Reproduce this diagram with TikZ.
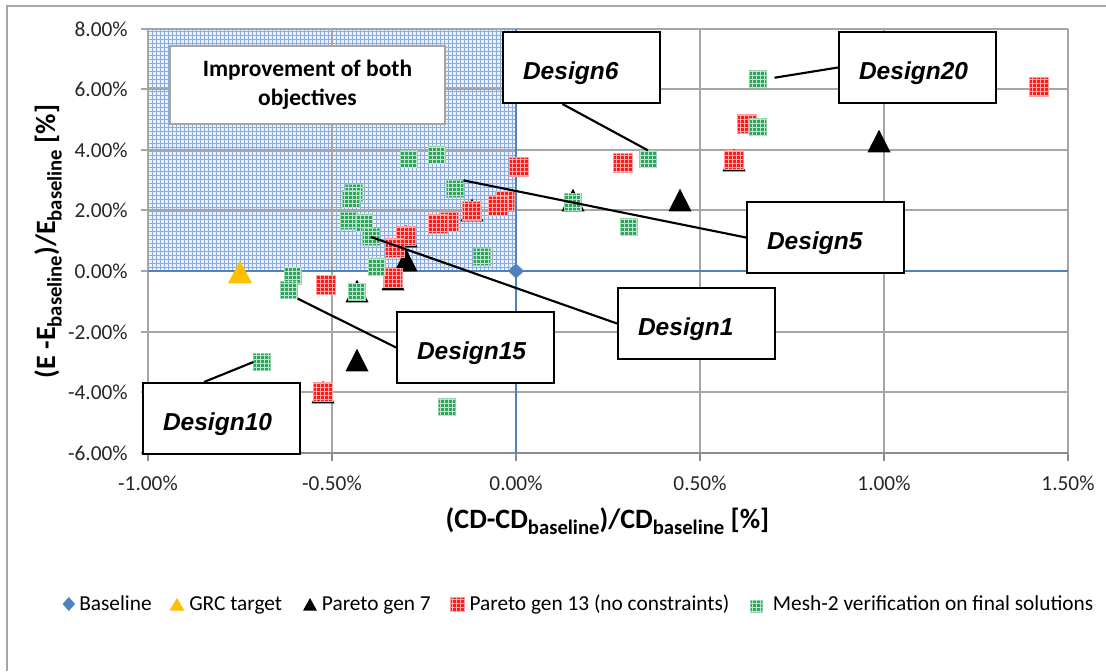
\documentclass[tikz,border=0pt]{standalone}
\usepackage{fontspec}
\setmainfont{Carlito}
\newfontfamily\arialfont{Liberation Sans}
\usetikzlibrary{patterns,shapes.geometric,calc}

\definecolor{axblue}{RGB}{79,129,189}
\definecolor{gridgray}{RGB}{166,166,166}
\definecolor{hatchbg}{RGB}{236,241,249}
\definecolor{hatchln}{RGB}{140,172,218}
\definecolor{p13red}{RGB}{255,25,25}
\definecolor{meshgreen}{RGB}{40,168,88}
\definecolor{grcyellow}{RGB}{255,192,0}

\newcommand{\bsub}{\raisebox{-5pt}{\fontsize{15.5}{18}\selectfont baseline}}

\begin{document}
\begin{tikzpicture}[x=0.75pt, y=-0.75pt,
    gridline/.style={draw=gridgray, line width=1.1pt},
    zeroline/.style={draw=axblue, line width=1.5pt},
    ticklabel/.style={text=black!85, inner sep=0pt, font=\fontsize{16}{19}\selectfont},
    p13/.style={rectangle, inner sep=0pt, minimum size=14.25pt, fill=p13red, draw=p13red!45!white, line width=0.5pt,
        postaction={pattern=grid, pattern color=white!65!p13red}},
    mesh/.style={rectangle, inner sep=0pt, minimum size=12.4pt, fill=meshgreen, draw=meshgreen!55!white, line width=0.5pt,
        postaction={pattern=grid, pattern color=white!70!meshgreen}},
    designbox/.style={draw, line width=1.5pt, fill=white, anchor=north west, minimum height=53.25pt,
        text width=87.75pt, inner xsep=15pt, inner ysep=0pt, align=left, text height=17.75pt, text depth=0pt,
        font=\arialfont\bfseries\itshape\fontsize{18.4}{22}\selectfont},
    leader/.style={line width=1.6pt},
    legtext/.style={inner sep=0pt, anchor=base west, font=\fontsize{16}{19}\selectfont}]

  \useasboundingbox (0,0) rectangle (1106,671);
  \fill[white] (0,0) rectangle (1106,671);
  % chart frame
  \draw[gridgray, line width=1.1pt] (7,671) -- (7,6) -- (1106,6);

  % region where both objectives improve
  \fill[hatchbg] (148,29) rectangle (516,269);
  \fill[pattern=grid, pattern color=hatchln] (148,29) rectangle (516,269);

  % grid and axes
  \foreach \gy in {29,89,150,210,332,392}
    \draw[gridline] (148,\gy) -- (1068,\gy);
  \foreach \gx in {332,700,884,1068}
    \draw[gridline] (\gx,29) -- (\gx,453);
  \foreach \gy in {29,89,150,210,271,332,392,453}
    \draw[gridline] (141,\gy) -- (148,\gy);
  \draw[gridline] (148,29) -- (148,453);
  \draw[draw=black!45, line width=1.6pt] (148,453) -- (1068,453);
  \foreach \gx in {148,332,516,700,884,1068}
    \draw[draw=black!45, line width=1.1pt] (\gx,453) -- (\gx,461);
  \draw[zeroline] (148,271) -- (1068,271);
  \draw[zeroline] (516,29) -- (516,453);

  % tick labels
  \foreach \gy/\lab [count=\i] in {29/8.00, 89/6.00, 150/4.00, 210/2.00, 271/0.00, 332/-2.00, 392/-4.00, 453/-6.00}
    \node[ticklabel, anchor=east] (yt\i) at (128,\gy) {\lab\%};
  \foreach \gx/\lab [count=\i] in {148/-1.00, 332/-0.50, 516/0.00, 700/0.50, 884/1.00, 1068/1.50}
    \node[ticklabel] (xt\i) at (\gx,483) {\lab\%};

  % axis titles
  \node[inner sep=0pt, anchor=base, font=\bfseries\fontsize{21}{24}\selectfont] (xtitle) at (607.5,528)
    {(CD-CD\bsub)/CD\bsub{} [\%]};
  \node[inner sep=0pt, anchor=base, rotate=90, font=\bfseries\fontsize{21}{24}\selectfont] (ytitle) at (55,241.5)
    {(E -E\bsub)/E\bsub{} [\%]};

  \node[draw=gridgray, line width=1.1pt, fill=white, minimum width=206.25pt, minimum height=58.5pt, align=center,
    font=\bfseries\fontsize{17.6}{21.75}\selectfont] (impr) at (307.5,85) {Improvement of both\\objectives};

  % baseline and GRC target
  \coordinate (base) at (516,271);
  \fill[axblue] (base) ++(0,-7.5) -- ++(8,7.5) -- ++(-8,7.5) -- ++(-8,-7.5) -- cycle;
  \fill[grcyellow] (240,272) ++(0,-11.25) -- ++(12,22.5) -- ++(-24,0) -- cycle;

  % Pareto gen 7
  \foreach \px/\py in {879/141, 734/160, 680/200, 573/200, 472/210, 406/236, 406/260, 393/279, 357/291, 357/360, 323/392}
    \fill[black] (\px,\py) ++(0,-11.25) -- ++(11.5,22.5) -- ++(-23,0) -- cycle;

  % Pareto gen 13
  \foreach \px/\py [count=\i] in {1039/87, 747/124, 734/160, 623/163, 519/167, 505/201, 498/206, 472/211,
      449/222, 438/224, 406/236, 395/248, 393/278, 326/285, 323/392}
    \node[p13] (p\i) at (\px,\py) {};

  % Mesh-2 verification
  \foreach \px/\py [count=\i] in {758/79, 758/127, 648/159, 629/227, 573/202, 482/257, 455/189, 437/155,
      409/159, 354/193, 351/199, 349/221, 364/223, 371/237, 377/267, 293/276, 289/290, 357/292, 262/362, 447/407}
    \node[mesh] (m\i) at (\px,\py) {};

  % design labels
  \node[designbox] (d6) at (502,31) {Design6};
  \node[designbox] (d20) at (838,31) {Design20};
  \node[designbox] (d5) at (746,201) {Design5};
  \node[designbox] (d1) at (617,287) {Design1};
  \node[designbox] (d15) at (396,311) {Design15};
  \node[designbox] (d10) at (142,382) {Design10};

  \draw[leader] ($(d6.south west)!.38!(d6.south east)$) -- (m3.north);
  \draw[leader, shorten <=6pt] (m1.east) -- (d20.west);
  \draw[leader] (m7.north east) -- (d5.west);
  \draw[leader] (m14.center) -- (d1.west);
  \draw[leader] (m17.south east) -- (d15.west);
  \draw[leader] (m19.west) -- ($(d10.north west)!.39!(d10.north east)$);

  % legend
  \coordinate (lgbase) at (68.8,604);
  \fill[axblue] (lgbase) ++(0,-7) -- ++(6.2,7) -- ++(-6.2,7) -- ++(-6.2,-7) -- cycle;
  \node[legtext] (lg1) at (79,610.7) {Baseline};
  \fill[grcyellow] (177,598) -- (184.5,610.7) -- (169.5,610.7) -- cycle;
  \node[legtext] (lg2) at (189,610.7) {GRC target};
  \fill[black] (310,598) -- (317,610.7) -- (303,610.7) -- cycle;
  \node[legtext] (lg3) at (321.7,610.7) {Pareto gen 7};
  \node[p13, minimum size=10.5pt] (lgp) at (457,604.3) {};
  \node[legtext] (lg4) at (469.3,610.7) {Pareto gen 13 (no constraints)};
  \node[mesh, minimum size=9pt] (lgm) at (756,606) {};
  \node[legtext] (lg5) at (772.7,610.7) {Mesh-2 verification on final solutions};
\end{tikzpicture}
\end{document}
